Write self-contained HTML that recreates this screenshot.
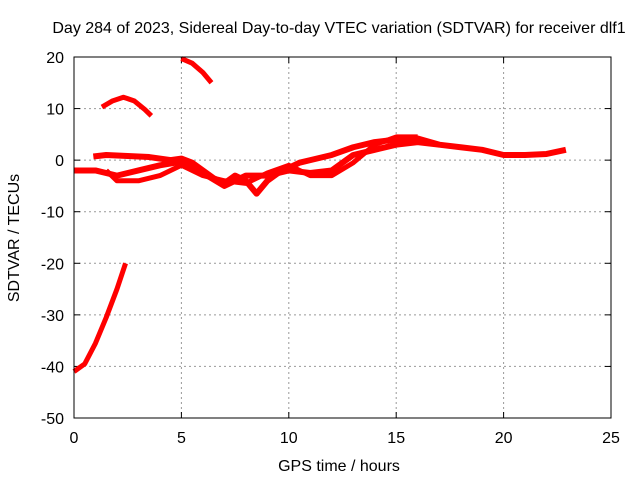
<!DOCTYPE html>
<html><head><meta charset="utf-8"><style>
body{margin:0;background:#fff}
svg text{font-family:"Liberation Sans",sans-serif;font-size:16px;fill:#000}
</style></head><body>
<svg id="c" width="640" height="480" xmlns="http://www.w3.org/2000/svg">
<rect width="640" height="480" fill="#fff"/>
<text x="339" y="33" text-anchor="middle">Day 284 of 2023, Sidereal Day-to-day VTEC variation (SDTVAR) for receiver dlf1</text>
<text x="339" y="471" text-anchor="middle">GPS time / hours</text>
<text transform="translate(19,238) rotate(-90)" text-anchor="middle">SDTVAR / TECUs</text>
<g id="grid"></g><g id="data"></g>
<rect x="74" y="57" width="537" height="361" fill="none" stroke="#000"/>
</svg>
<script>
const xTicks=[0,5,10,15,20,25];
const yTicks=[20,10,0,-10,-20,-30,-40,-50];
const seriesA=[[5.0,19.7],[5.5,18.8],[6.0,17],[6.4,15]];
const seriesB=[[1.3,10.3],[1.8,11.5],[2.3,12.2],[2.8,11.5],[3.3,9.8],[3.6,8.6]];
const seriesC=[[0,-41],[0.5,-39.5],[1,-35.5],[1.5,-30.5],[2,-25],[2.4,-20]];
const seriesD=[[0.9,0.7],[1.5,1],[2.5,0.8],[3.5,0.6],[4.5,0],[5,0.3],[5.5,-0.5],[6,-2],[6.5,-3.5],[7,-4.5],[7.5,-3],[8,-4],[8.5,-6.5],[9,-4],[9.5,-2.5],[10,-1.5],[10.5,-0.5],[11,0],[12,1],[13,2.5],[14,3.5],[15,4],[16,4.2],[17,3],[18,2.5],[19,2],[20,1],[21,1],[22,1.2],[22.9,2]];
const seriesE=[[0,-2],[1,-2],[2,-3],[3,-2],[4,-1],[5,-0.3],[6,-2.5],[7,-5],[8,-3],[9,-3],[10,-2],[11,-2.5],[12,-2],[13,1],[14,2],[15,3],[16,3.5],[17,3]];
const seriesF=[[1.5,-2],[2,-4],[3,-4],[4,-3],[5,-1],[6,-3],[7,-4],[8,-4.5],[9,-2.5],[10,-1],[11,-3],[12,-3],[13,-0.5],[14,3],[15,4.5],[16,4.5]];
const NS="http://www.w3.org/2000/svg";
const X=v=>74+v*(537/25), Y=v=>57+(20-v)*(361/70);
const grid=document.getElementById('grid'), data=document.getElementById('data'), svg=document.getElementById('c');
function mk(t,a,p){const e=document.createElementNS(NS,t);for(const k in a)e.setAttribute(k,a[k]);p.appendChild(e);return e;}
xTicks.forEach(v=>{
 if(v>0&&v<25){const g=mk('line',{x1:X(v),x2:X(v),y1:57,y2:418,stroke:'#999','stroke-dasharray':'2,3'},grid);
 
 }
 mk('line',{x1:X(v),x2:X(v),y1:418,y2:412,stroke:'#000'},grid);
 mk('line',{x1:X(v),x2:X(v),y1:57,y2:63,stroke:'#000'},grid);
 const t=mk('text',{x:X(v),y:443,'text-anchor':'middle'},svg);t.textContent=v;
 
 
});
yTicks.forEach(v=>{
 if(v<20&&v>-50){const g=mk('line',{x1:74,x2:611,y1:Y(v),y2:Y(v),stroke:'#999','stroke-dasharray':'2,3'},grid);
 
 }
 mk('line',{x1:74,x2:80,y1:Y(v),y2:Y(v),stroke:'#000'},grid);
 mk('line',{x1:605,x2:611,y1:Y(v),y2:Y(v),stroke:'#000'},grid);
 const t=mk('text',{x:64,y:Y(v)+6,'text-anchor':'end'},svg);t.textContent=v;
 
 
});
[[seriesA,5],[seriesB,5],[seriesC,5],[seriesD,6],[seriesE,6],[seriesF,5]].forEach(([s,w],i)=>{
 const p=mk('polyline',{points:s.map(d=>X(d[0])+','+Y(d[1])).join(' '),fill:'none',stroke:'#f00','stroke-width':w,'stroke-linejoin':'round'},data);
 
 
});
</script>
</body></html>
